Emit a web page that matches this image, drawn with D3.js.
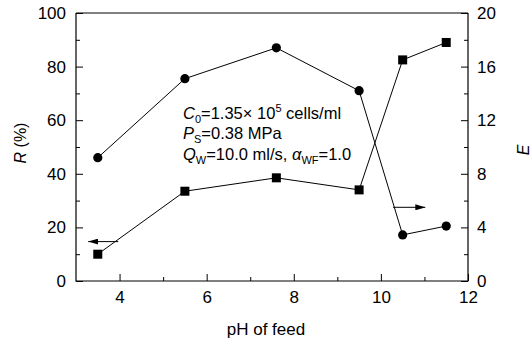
<!DOCTYPE html>
<html>
<head>
<meta charset="utf-8">
<script src="https://cdn.jsdelivr.net/npm/d3@7"></script>
<style>
  body { margin: 0; background: #fff; }
  text { font-family: "Liberation Sans", Arial, sans-serif; fill: #000; }
</style>
</head>
<body>
<svg width="530" height="343"></svg>
<script>
const svg = d3.select('svg')

// data
const ph = [3.5, 5.5, 7.6, 9.5, 10.5, 11.5]
const rejection = [46, 75.5, 87, 71, 17.2, 20.5]   // R (%), left axis, circles
const enrichment = [2.0, 6.7, 7.7, 6.8, 16.5, 17.8] // E, right axis, squares
const xTicks = [4, 6, 8, 10, 12]
const leftTicks = [0, 20, 40, 60, 80, 100]
const rightTicks = [0, 4, 8, 12, 16, 20]

const margin = {left: 76, right: 62, top: 13, bottom: 62}
const width = 530, height = 343
const innerWidth = width - margin.left - margin.right
const innerHeight = height - margin.top - margin.bottom

const x = d3.scaleLinear().domain([3, 12]).range([0, innerWidth])
const yL = d3.scaleLinear().domain([0, 100]).range([innerHeight, 0])
const yR = d3.scaleLinear().domain([0, 20]).range([innerHeight, 0])

const g = svg.append('g')
  .attr('transform', `translate(${margin.left}, ${margin.top})`)

const styleAxis = sel => {
  sel.select('.domain').remove()
  sel.selectAll('line').attr('stroke', '#000')
  sel.selectAll('text').attr('font-size', 17).attr('font-family', '"Liberation Sans", Arial, sans-serif')
}
const minorOnly = sel => {
  styleAxis(sel)
  sel.selectAll('text').remove()
}

// frame (left, bottom, right) and top line
g.append('path')
  .attr('d', `M0,0V${innerHeight}H${innerWidth}V0`)
  .attr('fill', 'none').attr('stroke', '#000').attr('stroke-width', 1.2)
g.append('line').attr('x1', 0).attr('x2', innerWidth).attr('y1', 0).attr('y2', 0)
  .attr('stroke', '#000').attr('stroke-width', 1)

// minor ticks
g.append('g').attr('transform', `translate(0, ${innerHeight})`)
  .call(d3.axisBottom(x).tickValues([5, 7, 9, 11]).tickSizeInner(-4).tickSizeOuter(0))
  .call(minorOnly)
g.append('g')
  .call(d3.axisLeft(yL).tickValues([10, 30, 50, 70, 90]).tickSizeInner(-4).tickSizeOuter(0))
  .call(minorOnly)
g.append('g').attr('transform', `translate(${innerWidth}, 0)`)
  .call(d3.axisRight(yR).tickValues([2, 6, 10, 14, 18]).tickSizeInner(-4).tickSizeOuter(0))
  .call(minorOnly)

// major ticks
g.append('g').attr('transform', `translate(0, ${innerHeight})`)
  .call(d3.axisBottom(x).tickValues(xTicks).tickSizeInner(-7).tickSizeOuter(0).tickPadding(10))
  .call(styleAxis)
g.append('g')
  .call(d3.axisLeft(yL).tickValues(leftTicks).tickSizeInner(-7).tickSizeOuter(0).tickPadding(10))
  .call(styleAxis)
g.append('g').attr('transform', `translate(${innerWidth}, 0)`)
  .call(d3.axisRight(yR).tickValues(rightTicks).tickSizeInner(-7).tickSizeOuter(0).tickPadding(9))
  .call(styleAxis)

// series
const rData = ph.map((p, i) => ({p, v: rejection[i]}))
const eData = ph.map((p, i) => ({p, v: enrichment[i]}))

g.append('path').datum(rData)
  .attr('d', d3.line().x(d => x(d.p)).y(d => yL(d.v)))
  .attr('fill', 'none').attr('stroke', '#000').attr('stroke-width', 1)
g.append('path').datum(eData)
  .attr('d', d3.line().x(d => x(d.p)).y(d => yR(d.v)))
  .attr('fill', 'none').attr('stroke', '#000').attr('stroke-width', 1)

g.selectAll('circle').data(rData).enter().append('circle')
  .attr('cx', d => x(d.p)).attr('cy', d => yL(d.v)).attr('r', 4.6).attr('fill', '#000')
g.selectAll('rect.sq').data(eData).enter().append('rect')
  .attr('class', 'sq')
  .attr('x', d => x(d.p) - 4.5).attr('y', d => yR(d.v) - 4.5)
  .attr('width', 9).attr('height', 9).attr('fill', '#000')

// arrows pointing to the axes
svg.append('defs').append('marker')
  .attr('id', 'head').attr('viewBox', '0 0 10 6').attr('refX', 10).attr('refY', 3)
  .attr('markerWidth', 10).attr('markerHeight', 6).attr('markerUnits', 'userSpaceOnUse')
  .attr('orient', 'auto')
  .append('path').attr('d', 'M0,0L10,3L0,6Z').attr('fill', '#000')

const arrows = [
  {x1: 3.97, x2: 3.28, y: 14.7},
  {x1: 10.28, x2: 11.02, y: 27.5}
]
g.selectAll('line.arrow').data(arrows).enter().append('line')
  .attr('class', 'arrow')
  .attr('x1', d => x(d.x1)).attr('x2', d => x(d.x2))
  .attr('y1', d => yL(d.y)).attr('y2', d => yL(d.y))
  .attr('stroke', '#000').attr('stroke-width', 1)
  .attr('marker-end', 'url(#head)')

// annotation: pieces laid out one after another as separate texts
const noteLine = (y, parts) => {
  let cx = 107
  parts.forEach(([txt, kind]) => {
    const small = kind === 'sub' || kind === 'sup'
    const t = g.append('text')
      .attr('x', cx)
      .attr('y', y + (kind === 'sub' ? 4 : kind === 'sup' ? -7 : 0))
      .attr('font-size', small ? 11 : 16.5)
      .attr('font-style', kind === 'i' ? 'italic' : null)
      .style('white-space', 'pre')
      .text(txt)
    cx += t.node().getComputedTextLength()
  })
}
noteLine(106, [['C', 'i'], ['0', 'sub'], ['=1.35\u00d7 10'], ['5', 'sup'], [' cells/ml']])
noteLine(126, [['P', 'i'], ['S', 'sub'], ['=0.38 MPa']])
noteLine(147, [['Q', 'i'], ['W', 'sub'], ['=10.0 ml/s, '], ['\u03b1', 'i'], ['WF', 'sub'], ['=1.0']])

// axis titles
svg.append('text')
  .attr('x', 266).attr('y', 335)
  .attr('text-anchor', 'middle').attr('font-size', 17).text('pH of feed')

const rt = svg.append('text')
  .attr('transform', 'translate(26, 143) rotate(-90)')
  .attr('text-anchor', 'middle').attr('font-size', 16)
rt.append('tspan').attr('font-style', 'italic').text('R')
rt.append('tspan').text(' (%)')

svg.append('text')
  .attr('transform', 'translate(529, 150) rotate(-90)')
  .attr('text-anchor', 'middle').attr('font-size', 16).attr('font-style', 'italic').text('E')
</script>
</body>
</html>
